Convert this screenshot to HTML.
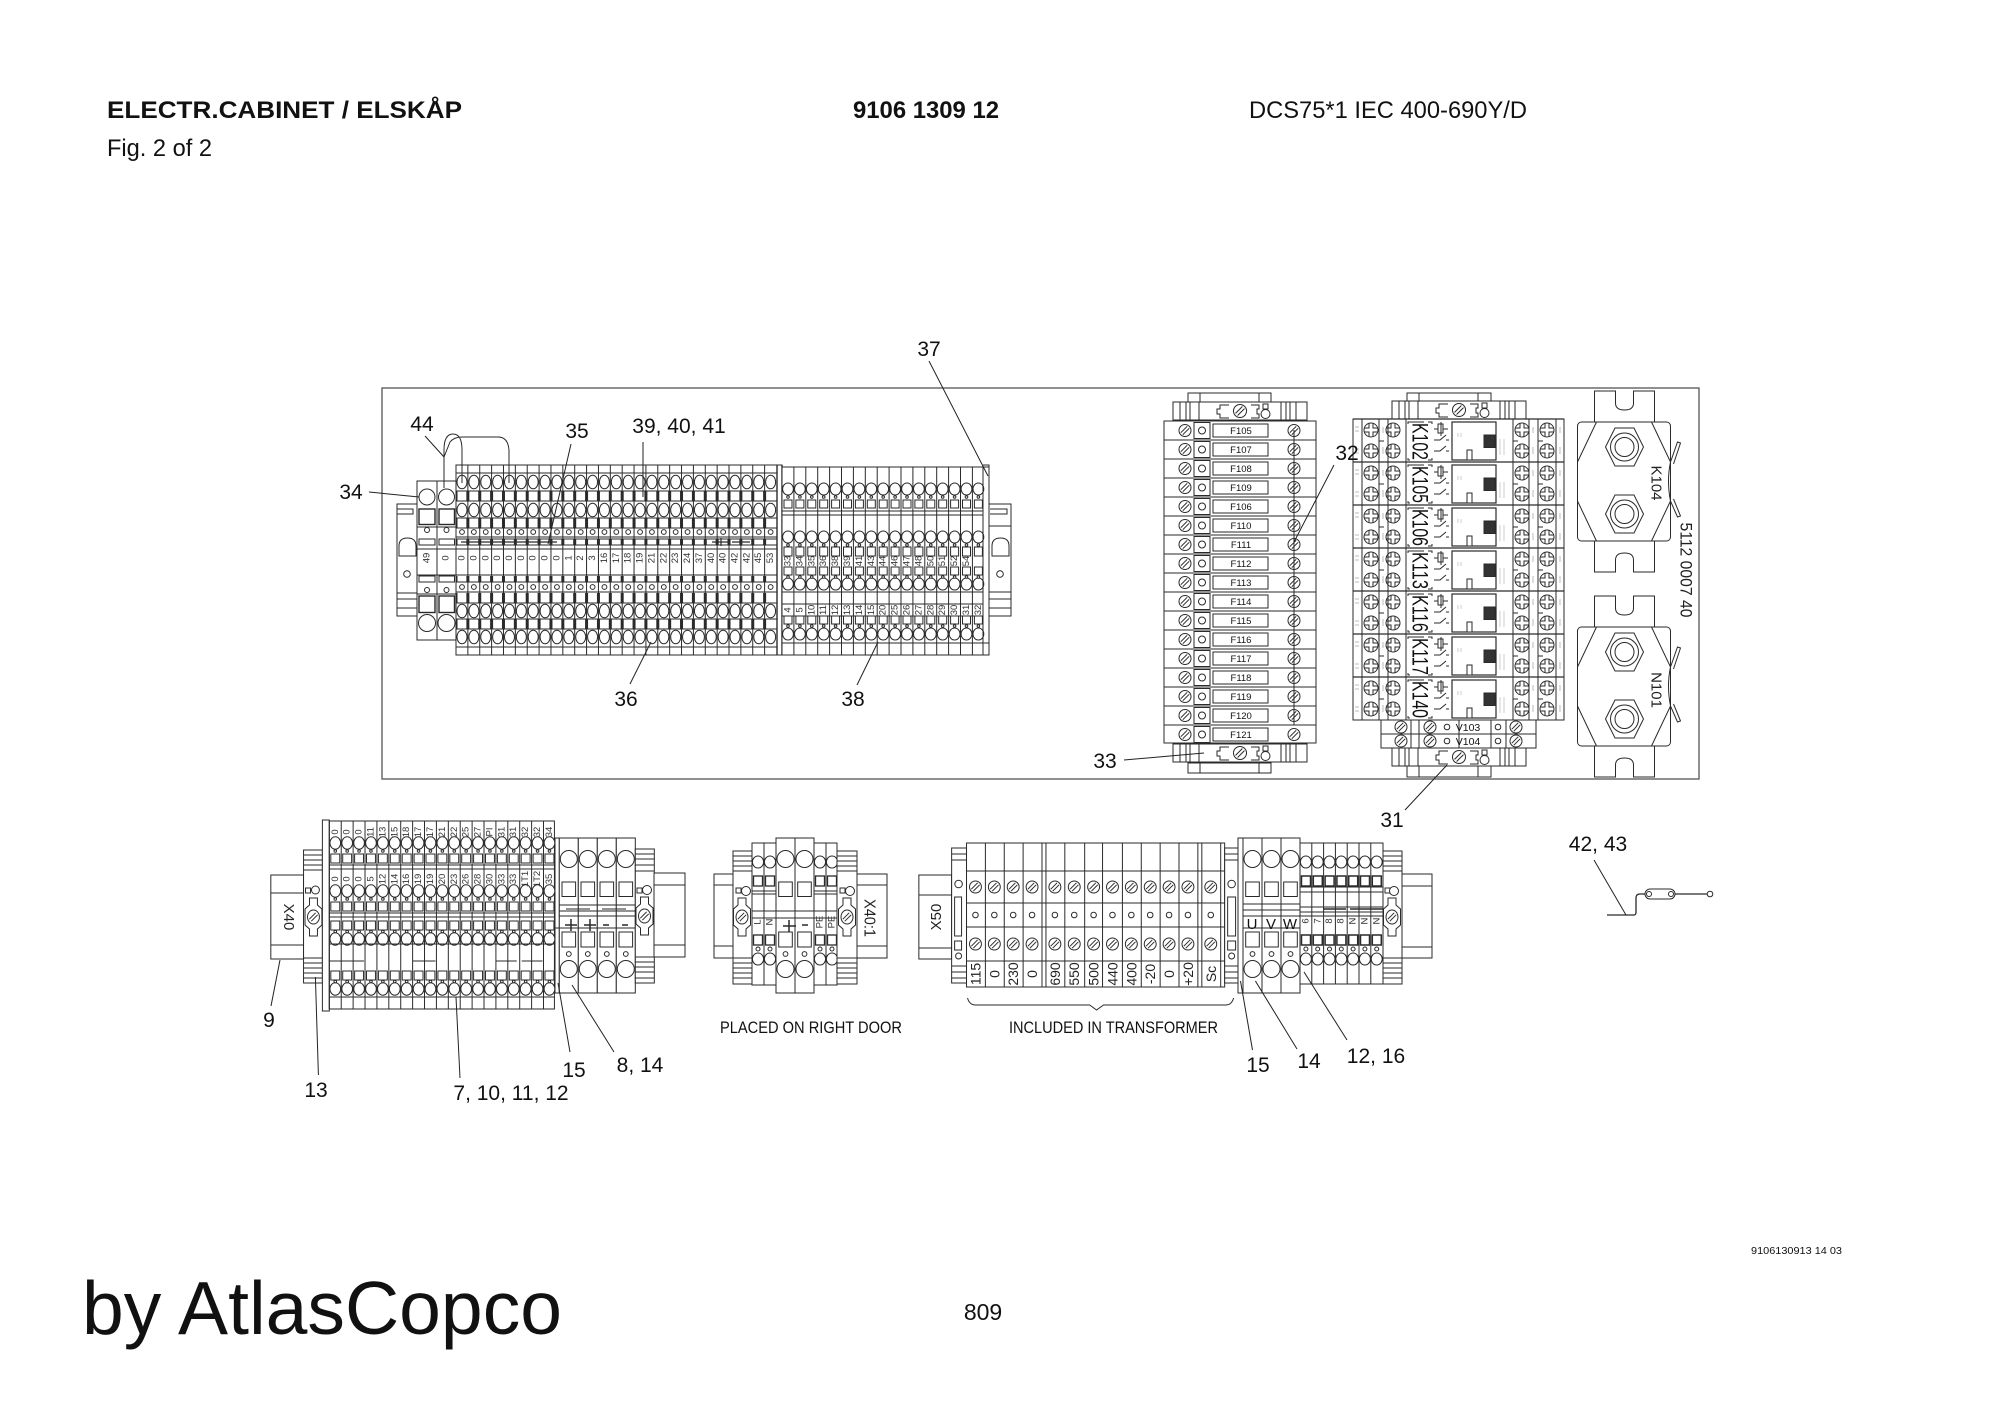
<!DOCTYPE html>
<html><head><meta charset="utf-8"><title>Electr. cabinet</title>
<style>
html,body{margin:0;padding:0;background:#fff}
svg{display:block}
text{font-family:"Liberation Sans",sans-serif;fill:#111;stroke:none}
.c{font-size:21px;text-anchor:middle}
.t{font-size:9.5px;text-anchor:middle;dominant-baseline:central;fill:#333}
.m{font-size:14px;text-anchor:middle;dominant-baseline:central;fill:#222}
.k{font-size:22px;text-anchor:middle;dominant-baseline:central;fill:#111}
</style></head><body>
<svg width="2000" height="1413" viewBox="0 0 2000 1413" xmlns="http://www.w3.org/2000/svg">
<defs>
<g id="s"><circle r="6"/><path d="M-4.2 2.2L2.2-4.2M-2.2 4.2L4.2-2.2"/></g>
<g id="ky"><path d="M-4-19H4V-12L8.500-8V8L4 12V19H-4V12L-8.500 8V-8L-4-12Z"/><g><ellipse rx="6" ry="7"/><path d="M-4.200 2.200L2.200-4.200M-2.200 4.200L4.200-2.200"/></g></g>
<g id="x"><circle r="7"/><path d="M-2-6.700V-2H-6.700M2-6.700V-2H6.700M-2 6.700V2H-6.700M2 6.700V2H6.700"/></g>
<!-- block1 column -->
<g id="c1"><path d="M0 465V655"/>
<path d="M0 491V501M0 518V528M0 539V545M0 576V582M0 593V603M0 619V629" stroke-width="3"/>
<ellipse cx="6" cy="482" rx="5" ry="6.800"/><ellipse cx="6" cy="510" rx="5" ry="6.800"/>
<ellipse cx="6" cy="611" rx="5" ry="6.800"/><ellipse cx="6" cy="637" rx="5" ry="6.800"/>
<circle cx="6" cy="532" r="2.400"/><circle cx="6" cy="587" r="2.400"/></g>
<g id="c13"><use href="#c1"/><use href="#c1" x="11.870"/><use href="#c1" x="23.740"/></g>
<g id="c19"><use href="#c13"/><use href="#c13" x="35.610"/><use href="#c13" x="71.220"/></g>
<!-- block2 column -->
<g id="c2"><path d="M0 467V655"/>
<ellipse cx="6" cy="489" rx="5.400" ry="6"/><ellipse cx="6" cy="537" rx="5.400" ry="6"/><ellipse cx="6" cy="584" rx="5.400" ry="6"/><ellipse cx="6" cy="634" rx="5.400" ry="6"/>
<rect x="2" y="500" width="8" height="8"/><rect x="2" y="547" width="8" height="9"/><rect x="2" y="567" width="8" height="8"/><rect x="2" y="616" width="8" height="8"/>
<circle cx="6" cy="497" r="1.300"/><circle cx="6" cy="545" r="1.300"/><circle cx="6" cy="577" r="1.300"/><circle cx="6" cy="626" r="1.300"/></g>
<g id="c23"><use href="#c2"/><use href="#c2" x="11.900"/><use href="#c2" x="23.800"/></g>
<g id="c26"><use href="#c23"/><use href="#c23" x="35.700"/></g>
<!-- block A column -->
<g id="a"><path d="M0 821V1009"/>
<ellipse cx="6" cy="843" rx="5.400" ry="6.200"/><ellipse cx="6" cy="891" rx="5.400" ry="6.200"/><ellipse cx="6" cy="939" rx="5.400" ry="6.200"/><ellipse cx="6" cy="989" rx="5.400" ry="6.200"/>
<rect x="1.500" y="854" width="9" height="9"/><rect x="1.500" y="902" width="9" height="9"/><rect x="1.500" y="921" width="9" height="9"/><rect x="1.500" y="971" width="9" height="9"/>
<circle cx="6" cy="851" r="1.300"/><circle cx="6" cy="899" r="1.300"/><circle cx="6" cy="931.500" r="1.300"/><circle cx="6" cy="981.500" r="1.300"/></g>
<g id="a3"><use href="#a"/><use href="#a" x="12"/><use href="#a" x="24"/></g>
<g id="a9"><use href="#a3"/><use href="#a3" x="36"/><use href="#a3" x="72"/></g>
<!-- wide column -->
<g id="b"><rect x="0" y="838" width="19" height="155"/>
<ellipse cx="9.500" cy="859" rx="8.500" ry="8.500"/><rect x="2.700" y="882" width="13.600" height="14.500"/>
<rect x="2.700" y="932" width="13.600" height="15"/><circle cx="9.500" cy="954" r="2.400"/><ellipse cx="9.500" cy="969" rx="8.500" ry="8.500"/></g>
<!-- small column for x40:1 -->
<g id="e"><path d="M0 843V985"/><ellipse cx="6" cy="862" rx="5.600" ry="6"/><rect x="1.500" y="876" width="9" height="10" stroke-width="1.300"/><rect x="1.500" y="935" width="9" height="10" stroke-width="1.300"/><circle cx="6" cy="949" r="2"/><ellipse cx="6" cy="959" rx="5.600" ry="6"/></g>
<!-- small col UVW -->
<g id="u"><path d="M0 843V984"/><ellipse cx="5.900" cy="862" rx="5.500" ry="6"/><rect x="1.500" y="876" width="9" height="10" stroke-width="1.500"/><rect x="1.500" y="935" width="9" height="10" stroke-width="1.500"/><circle cx="5.900" cy="949" r="2"/><ellipse cx="5.900" cy="959" rx="5.500" ry="6"/></g>
<!-- fuse row -->
<g id="f"><path d="M1164 0H1316"/><use href="#s" x="1185" y="9.500"/><rect x="1194" y="1.500" width="16" height="16"/><circle cx="1202" cy="9.500" r="3.500"/><rect x="1213" y="3" width="55" height="13"/><use href="#s" x="1294" y="9.500"/></g>
<!-- din end -->
<g id="fe"><rect x="1392" y="401" width="134" height="18"/><path d="M1399 401V419M1405 401V419M1409 401V419M1418 401V419M1500 401V419M1505 401V419M1509 401V419M1515 401V419" fill="none"/>
<path d="M1448 404H1439V408H1436V413H1439V417H1448M1470 404H1478V408H1476V413H1478V417H1470" fill="none"/><g transform="translate(1459 410)"><circle r="6.500"/><path d="M-4.500 2.400L2.400-4.500M-2.400 4.500L4.500-2.400"/></g><rect x="1482" y="403" width="5" height="5"/><circle cx="1484.500" cy="413" r="4.500"/></g>
<!-- relay row -->
<g id="r"><path d="M1353 0H1564" stroke-width="1.300"/>
<use href="#x" x="1371" y="11"/><use href="#x" x="1371" y="32"/><use href="#x" x="1393" y="11"/><use href="#x" x="1393" y="32"/>
<use href="#x" x="1522" y="11"/><use href="#x" x="1522" y="32"/><use href="#x" x="1547" y="11"/><use href="#x" x="1547" y="32"/>
<path d="M1379 22H1384M1513 22H1518M1538 22H1543" fill="none"/>
<path d="M1355 8H1359M1355 12H1359M1355 30H1359M1355 34H1359M1383 8V14M1383 28V35M1533 8V14M1533 28V35M1560 8V14M1560 28V35" stroke="#bbb" fill="none"/>
<path d="M1412 3H1408V5M1412 3H1424M1428 3H1432V5M1410 41H1408V39M1428 41H1432V39" fill="none"/>
<rect x="1438" y="5" width="5" height="9"/>
<path d="M1434 10H1438M1443 10H1448M1434 21H1440L1446 16M1434 32H1440L1446 27M1446 21H1449M1446 32H1449M1441 3V17" fill="none"/>
<rect x="1452" y="3" width="44" height="38" stroke-width="1.200"/><rect x="1484" y="16" width="11" height="12.500" fill="#333"/><rect x="1467" y="31" width="5" height="10"/>
<path d="M1458 14V18M1461 14V18M1500 20V36M1504 20V36" stroke="#ccc" fill="none"/></g>
<!-- contactor -->
<g id="h"><path d="M1597 422V391H1618V403Q1618 410 1627 410T1636 403V391H1657V422M1597 541V572H1618V560Q1618 553 1627 553T1636 560V572H1657V541"/>
<rect x="1580" y="422" width="93" height="119" rx="4"/>
<path d="M1580 462L1599 422M1580 501L1599 541M1673 462L1654 422M1673 501L1654 541" fill="none"/>
<path d="M1673 462L1680 442L1683 443L1676 464M1673 501L1680 517L1683 516L1676 499M1673 462Q1669 481 1673 501" fill="none"/>
<g transform="translate(1627 447)"><path d="M-19 0L-9.500-19H9.500L19 0L9.500 19H-9.500Z"/><circle r="14"/><circle r="9.500"/></g>
<g transform="translate(1627 514)"><path d="M-19 0L-9.500-19H9.500L19 0L9.500 19H-9.500Z"/><circle r="14"/><circle r="9.500"/></g></g>
</defs>

<g fill="#fff" stroke="#2a2a2a" stroke-width="1">
<!-- frame -->
<rect x="382" y="388" width="1317" height="391" fill="none" stroke="#555" stroke-width="1.300"/>

<!-- rails block1 -->
<rect x="397" y="504" width="20" height="112"/><path d="M397 509H413V514H397M399 556V546Q399 538 407.500 538T416 546V556ZM397 593H417M397 599H417M397 608H417" fill="none"/><circle cx="407" cy="574" r="3.300"/>
<rect x="989" y="504" width="22" height="112"/><path d="M990 509H1007V514H990M992 556V546Q992 538 1000.500 538T1009 546V556ZM989 526H1011M989 592H1011M989 599H1011M989 608H1011" fill="none"/><circle cx="1000" cy="574" r="3.300"/>

<!-- block 1 -->
<rect x="456" y="465" width="326" height="190"/>
<use href="#c19" x="456"/><use href="#c19" x="562.830"/><use href="#c19" x="669.660"/>
<path d="M456 473H777M456 491H777M456 501H777M456 518H777M456 528H777M456 537H777M456 539H777M456 545H777M456 549H777M456 575H777M456 582H777M456 592H777M456 603H777M456 619H777M456 629H777M456 647H777" fill="none"/>
<path d="M777 465V655M782 465V655" fill="none" stroke-width="1.400"/>
<path d="M461 542H557M712 542H730M732 542H750M721 538V546M741 538V546" fill="none" stroke-width="1.200"/>

<!-- block 2 -->
<rect x="782" y="467" width="207" height="188"/>
<use href="#c26" x="782"/><use href="#c26" x="853.400"/><use href="#c2" x="924.800"/><use href="#c2" x="936.700"/><use href="#c2" x="948.600"/><use href="#c2" x="960.500"/><use href="#c2" x="972.400"/>
<path d="M782 511H983M782 515H983M782 592H983M782 604H983M782 616H983M782 643H989M983 467V655" fill="none"/>
<path d="M983 465H989V655" fill="none"/>

<!-- wide left terminals -->
<rect x="417" y="481" width="20" height="159"/><rect x="437" y="481" width="19" height="159"/>
<circle cx="427" cy="497" r="8"/><circle cx="446.500" cy="497" r="8"/><circle cx="427" cy="623" r="8.500"/><circle cx="446.500" cy="623" r="8.500"/>
<rect x="419" y="509" width="16" height="15.500" stroke-width="1.400"/><rect x="439" y="509" width="15.500" height="15.500" stroke-width="1.400"/><rect x="419" y="596" width="16" height="16.500" stroke-width="1.400"/><rect x="439" y="596" width="15.500" height="16.500" stroke-width="1.400"/>
<rect x="419" y="539" width="16" height="6"/><rect x="439" y="539" width="15.500" height="6"/><rect x="419" y="576" width="16" height="6"/><rect x="439" y="576" width="15.500" height="6"/>
<path d="M417 549H456M417 575H456M417 527H456M417 594H456" fill="none"/>
<circle cx="427" cy="530" r="2.500"/><circle cx="446.500" cy="530" r="2.500"/><circle cx="427" cy="590" r="2.500"/><circle cx="446.500" cy="590" r="2.500"/>
<path d="M444 488V450Q444 434 453 434Q462 434 462 450V483M444 457L450 442Q454 437 462 437H498Q508 437 509 450V483" fill="none"/>

<!-- fuse block -->
<rect x="1164" y="421" width="152" height="322"/>
<rect x="1188" y="393" width="83" height="9"/><path d="M1200 393V402M1259 393V402" fill="none"/>
<use href="#fe" transform="translate(-219 1)"/><use href="#fe" transform="translate(-219 343)"/>
<rect x="1188" y="763" width="83" height="10"/><path d="M1200 763V773M1259 763V773" fill="none"/>
<use href="#f" y="421"/><use href="#f" y="440"/><use href="#f" y="459"/><use href="#f" y="478"/><use href="#f" y="497"/><use href="#f" y="516"/><use href="#f" y="535"/><use href="#f" y="554"/><use href="#f" y="573"/><use href="#f" y="592"/><use href="#f" y="611"/><use href="#f" y="630"/><use href="#f" y="649"/><use href="#f" y="668"/><use href="#f" y="687"/><use href="#f" y="706"/><use href="#f" y="725"/>
<path d="M1294 430V725" fill="none"/>

<!-- relay block -->
<rect x="1407" y="393" width="84" height="8"/><path d="M1419 393V401M1478 393V401" fill="none"/>
<use href="#fe"/>
<rect x="1353" y="419" width="211" height="301"/>
<use href="#r" y="419"/><use href="#r" y="462"/><use href="#r" y="505"/><use href="#r" y="548"/><use href="#r" y="591"/><use href="#r" y="634"/><use href="#r" y="677"/>
<path d="M1362 419V720M1379 419V720M1388 419V720M1406 419V720M1513 419V720M1529 419V720M1538 419V720M1556 419V720" fill="none"/>
<rect x="1381" y="720" width="155" height="28"/><path d="M1381 734H1536M1411 720V748M1419 720V748M1459 720V748M1491 720V748M1506 720V748" fill="none"/>
<use href="#s" x="1401" y="727"/><use href="#s" x="1430" y="727"/><use href="#s" x="1516" y="727"/><use href="#s" x="1401" y="741"/><use href="#s" x="1430" y="741"/><use href="#s" x="1516" y="741"/>
<circle cx="1447" cy="727" r="2.800"/><circle cx="1447" cy="741" r="2.800"/><circle cx="1498" cy="727" r="2.800"/><circle cx="1498" cy="741" r="2.800"/>
<use href="#fe" transform="translate(0 347)"/>
<rect x="1407" y="766" width="84" height="11"/><path d="M1419 766V777M1478 766V777" fill="none"/>

<!-- contactors -->
<use href="#h" x="-2.500"/><use href="#h" x="-2.500" y="205"/>

<!-- X40 group -->
<g transform="translate(2.105 0) scale(.99158 1)">
<rect x="271" y="875" width="33" height="84"/><path d="M271 893H304M271 945H304" fill="none"/>
<rect x="304" y="850" width="19" height="133"/>
<path d="M304 855H323M304 860H323M304 865H323M304 870H323M304 958H323M304 963H323M304 968H323M304 973H323M304 978H323" fill="none"/>
<rect x="323" y="820" width="7" height="191"/>
<use href="#ky" x="314" y="917"/><rect x="306" y="888" width="5" height="5"/><circle cx="316" cy="890" r="4"/>
<rect x="330" y="821" width="227" height="188"/>
<use href="#a9" x="330"/><use href="#a9" x="438"/><use href="#a" x="546"/>
<path d="M330 865H557M330 869H557M330 913H557M330 917H557M330 944H557M330 997H557M330 961H365M414 961H437M498 961H519M524 961H545" fill="none"/>
</g>
<!-- block B -->
<rect x="555" y="838" width="4.300" height="155"/>
<use href="#b" x="559.300"/><use href="#b" x="578.300"/><use href="#b" x="597.300"/><use href="#b" x="616.300"/>
<path d="M559 905H635M559 911H635M559 916H635M555 928H651M566 909H590M602 909H626" fill="none"/>
<path d="M571 919V931M565 925H577M590 919V931M584 925H596M603 925H609M622 925H628" fill="none" stroke-width="1.500"/>
<rect x="635.300" y="849" width="19" height="134"/>
<path d="M635 854H654M635 859H654M635 865H654M635 871H654M635 957H654M635 962H654M635 967H654M635 972H654M635 978H654" fill="none"/>
<use href="#ky" x="644.500" y="916"/><rect x="637" y="888" width="5" height="5"/><circle cx="647" cy="890" r="4.500"/>
<rect x="654" y="873" width="31" height="84"/><path d="M654 885H685M654 945H685" fill="none"/>

<!-- X40:1 -->
<rect x="714" y="874" width="19" height="84"/><path d="M714 885H733M714 946H733" fill="none"/>
<rect x="733" y="851" width="19" height="133"/>
<path d="M733 856H752M733 861H752M733 866H752M733 871H752M733 958H752M733 963H752M733 968H752M733 973H752M733 978H752" fill="none"/>
<use href="#ky" x="742" y="917"/><rect x="736" y="888" width="5" height="5"/><circle cx="746" cy="891" r="4.500"/>
<rect x="752" y="843" width="24" height="142"/><use href="#e" x="752"/><use href="#e" x="764"/>
<use href="#b" x="776"/><use href="#b" x="795"/>
<rect x="814" y="843" width="23" height="142"/><use href="#e" x="814"/><use href="#e" x="826"/>
<path d="M752 891H776M752 894H776M776 911H814M776 918H814M752 911H776M814 911H837M752 918H776M814 918H837M814 891H837M814 894H837" fill="none"/>
<path d="M789 920V932M783 926H796M802 925H808" fill="none" stroke-width="1.500"/>
<rect x="837" y="851" width="20" height="133"/>
<path d="M837 856H857M837 861H857M837 866H857M837 871H857M837 958H857M837 963H857M837 968H857M837 973H857M837 978H857" fill="none"/>
<use href="#ky" x="847" y="917"/><rect x="840" y="888" width="5" height="5"/><circle cx="850" cy="891" r="4.500"/>
<rect x="857" y="874" width="30" height="84"/><path d="M857 885H887M857 946H887" fill="none"/>

<!-- X50 group -->
<g transform="translate(6.430 0) scale(.99286 1)">
<rect x="919" y="875" width="33" height="84"/><path d="M919 895H952M919 948H952" fill="none"/>
<rect x="952" y="848" width="15" height="135"/>
<path d="M952 854H967M952 860H967M952 966H967M952 972H967M952 978H967" fill="none"/>
<circle cx="959" cy="884" r="3.800"/><rect x="955" y="897" width="7" height="39"/><rect x="955" y="941" width="7" height="9"/><circle cx="959" cy="956" r="3"/>
<rect x="967" y="843" width="260" height="144"/>
<path d="M986 843V987M1005 843V987M1024 843V987M1043 843V987M1047 843V987M1066 843V987M1086 843V987M1104 843V987M1124 843V987M1143 843V987M1162 843V987M1181 843V987M1200 843V987M1204 843V987M1223 843V987M967 871H1227M967 903H1227M967 927H1227M967 961H1227" fill="none"/>
<use href="#s" x="976" y="887"/><use href="#s" x="995" y="887"/><use href="#s" x="1014" y="887"/><use href="#s" x="1033" y="887"/><use href="#s" x="1056" y="887"/><use href="#s" x="1075.500" y="887"/><use href="#s" x="1095" y="887"/><use href="#s" x="1114" y="887"/><use href="#s" x="1133" y="887"/><use href="#s" x="1152" y="887"/><use href="#s" x="1171" y="887"/><use href="#s" x="1190" y="887"/><use href="#s" x="1213" y="887"/>
<use href="#s" x="976" y="944"/><use href="#s" x="995" y="944"/><use href="#s" x="1014" y="944"/><use href="#s" x="1033" y="944"/><use href="#s" x="1056" y="944"/><use href="#s" x="1075.500" y="944"/><use href="#s" x="1095" y="944"/><use href="#s" x="1114" y="944"/><use href="#s" x="1133" y="944"/><use href="#s" x="1152" y="944"/><use href="#s" x="1171" y="944"/><use href="#s" x="1190" y="944"/><use href="#s" x="1213" y="944"/>
<circle cx="976" cy="915" r="2.800"/><circle cx="995" cy="915" r="2.800"/><circle cx="1014" cy="915" r="2.800"/><circle cx="1033" cy="915" r="2.800"/><circle cx="1056" cy="915" r="2.800"/><circle cx="1075.500" cy="915" r="2.800"/><circle cx="1095" cy="915" r="2.800"/><circle cx="1114" cy="915" r="2.800"/><circle cx="1133" cy="915" r="2.800"/><circle cx="1152" cy="915" r="2.800"/><circle cx="1171" cy="915" r="2.800"/><circle cx="1190" cy="915" r="2.800"/><circle cx="1213" cy="915" r="2.800"/>
<rect x="1227" y="848" width="14" height="135"/>
<path d="M1227 854H1241M1227 860H1241M1227 966H1241M1227 972H1241M1227 978H1241" fill="none"/>
<circle cx="1234" cy="884" r="3.800"/><rect x="1230" y="897" width="8" height="39"/><rect x="1230" y="941" width="8" height="9"/><circle cx="1234" cy="956" r="3"/>
<path d="M968 998Q970 1005 976 1005H1091L1098 1010L1105 1005H1228Q1234 1005 1236 998" fill="none"/>
</g>
<!-- UVW -->
<rect x="1238" y="838" width="62" height="155"/>
<use href="#b" x="1243"/><use href="#b" x="1262"/><use href="#b" x="1281"/>
<path d="M1243 904H1300M1243 910H1300M1243 916H1300M1243 928H1300" fill="none"/>
<rect x="1300" y="843" width="83" height="141"/>
<use href="#u" x="1300"/><use href="#u" x="1311.800"/><use href="#u" x="1323.600"/><use href="#u" x="1335.400"/><use href="#u" x="1347.200"/><use href="#u" x="1359"/><use href="#u" x="1370.800"/>
<path d="M1300 887H1383M1300 892H1383M1300 907H1383M1300 912H1383M1300 916H1383" fill="none"/>
<path d="M1323 909H1346M1350 909H1383" fill="none" stroke-width="1.600"/>
<rect x="1383" y="851" width="19" height="133"/>
<path d="M1383 856H1402M1383 861H1402M1383 866H1402M1383 871H1402M1383 958H1402M1383 963H1402M1383 968H1402M1383 973H1402M1383 978H1402" fill="none"/>
<use href="#ky" x="1392" y="917"/><rect x="1385" y="888" width="5" height="5"/><circle cx="1394" cy="891" r="4.500"/>
<rect x="1402" y="874" width="30" height="84"/><path d="M1402 886H1432M1402 947H1432" fill="none"/>

<!-- symbol 42,43 -->
<path d="M1607 915H1634Q1636 915 1636 912V898Q1636 894 1640 894H1707" fill="none" stroke-width="1.300"/>
<rect x="1645" y="889" width="30" height="10" rx="5"/><circle cx="1649" cy="894" r="2.500"/><circle cx="1671" cy="894" r="2.500"/><circle cx="1710" cy="894" r="2.800"/>

<!-- leaders -->
<path fill="none" stroke="#222" d="M929 361L988 476M425 436L444 457M571 444L548 544M643 442V497M369 492L419 497M630 684L651 642M857 685L878 642M1334 465L1294 542M1124 760L1204 753M1405 810L1447 765M271 1006L280 960M318.400 1075L315.400 977M460 1078L456 997M570 1052L558 983M614 1052L572 985M1252.500 1050L1240.500 981M1297 1049L1255.400 981M1347 1040L1304 972M1594 860L1626 915"/>
</g>

<!-- text -->
<text x="107" y="118" font-size="24.500" font-weight="bold" textLength="355" lengthAdjust="spacingAndGlyphs">ELECTR.CABINET / ELSKÅP</text>
<text x="853" y="118" font-size="24" font-weight="bold" textLength="146" lengthAdjust="spacingAndGlyphs">9106 1309 12</text>
<text x="1249" y="118" font-size="24" textLength="278" lengthAdjust="spacingAndGlyphs">DCS75*1 IEC 400-690Y/D</text>
<text x="107" y="156" font-size="24" textLength="105" lengthAdjust="spacingAndGlyphs">Fig. 2 of 2</text>
<text x="82" y="1334" font-size="75" textLength="480" lengthAdjust="spacingAndGlyphs">by AtlasCopco</text>
<text x="983" y="1320" font-size="23" text-anchor="middle">809</text>
<text x="1751" y="1254" font-size="10.500" textLength="91" lengthAdjust="spacingAndGlyphs">9106130913 14 03</text>

<text class="c" x="929" y="356">37</text><text class="c" x="422" y="431">44</text><text class="c" x="577" y="438">35</text><text class="c" x="679" y="433">39, 40, 41</text><text class="c" x="351" y="499">34</text><text class="c" x="626" y="706">36</text><text class="c" x="853" y="706">38</text><text class="c" x="1347" y="460">32</text><text class="c" x="1105" y="768">33</text><text class="c" x="1392" y="827">31</text><text class="c" x="1598" y="851">42, 43</text><text class="c" x="269" y="1027">9</text><text class="c" x="316" y="1097">13</text><text class="c" x="511" y="1100">7, 10, 11, 12</text><text class="c" x="574" y="1077">15</text><text class="c" x="640" y="1072">8, 14</text><text class="c" x="1258" y="1072">15</text><text class="c" x="1309" y="1068">14</text><text class="c" x="1376" y="1063">12, 16</text>
<text x="720" y="1033" font-size="17" textLength="182" lengthAdjust="spacingAndGlyphs">PLACED ON RIGHT DOOR</text>
<text x="1009" y="1033" font-size="17" textLength="209" lengthAdjust="spacingAndGlyphs">INCLUDED IN TRANSFORMER</text>

<!-- block1 labels -->
<g>
<text class="t" transform="translate(427 558)rotate(-90)">49</text><text class="t" transform="translate(446 558)rotate(-90)">0</text>
<text class="t" transform="translate(462 558)rotate(-90)">0</text><text class="t" transform="translate(473.900 558)rotate(-90)">0</text><text class="t" transform="translate(485.800 558)rotate(-90)">0</text><text class="t" transform="translate(497.700 558)rotate(-90)">0</text><text class="t" transform="translate(509.500 558)rotate(-90)">0</text><text class="t" transform="translate(521.400 558)rotate(-90)">0</text><text class="t" transform="translate(533.200 558)rotate(-90)">0</text><text class="t" transform="translate(545.100 558)rotate(-90)">0</text><text class="t" transform="translate(557 558)rotate(-90)">0</text><text class="t" transform="translate(568.800 558)rotate(-90)">1</text><text class="t" transform="translate(580.700 558)rotate(-90)">2</text><text class="t" transform="translate(592.600 558)rotate(-90)">3</text><text class="t" transform="translate(604.400 558)rotate(-90)">16</text><text class="t" transform="translate(616.300 558)rotate(-90)">17</text><text class="t" transform="translate(628.200 558)rotate(-90)">18</text><text class="t" transform="translate(640 558)rotate(-90)">19</text><text class="t" transform="translate(651.900 558)rotate(-90)">21</text><text class="t" transform="translate(663.800 558)rotate(-90)">22</text><text class="t" transform="translate(675.700 558)rotate(-90)">23</text><text class="t" transform="translate(687.500 558)rotate(-90)">24</text><text class="t" transform="translate(699.400 558)rotate(-90)">37</text><text class="t" transform="translate(711.300 558)rotate(-90)">40</text><text class="t" transform="translate(723.100 558)rotate(-90)">40</text><text class="t" transform="translate(735 558)rotate(-90)">42</text><text class="t" transform="translate(746.900 558)rotate(-90)">42</text><text class="t" transform="translate(758.700 558)rotate(-90)">45</text><text class="t" transform="translate(770.600 558)rotate(-90)">53</text>
<text class="t" transform="translate(788 561)rotate(-90)">33</text><text class="t" transform="translate(799.900 561)rotate(-90)">34</text><text class="t" transform="translate(811.800 561)rotate(-90)">35</text><text class="t" transform="translate(823.700 561)rotate(-90)">36</text><text class="t" transform="translate(835.600 561)rotate(-90)">38</text><text class="t" transform="translate(847.500 561)rotate(-90)">39</text><text class="t" transform="translate(859.400 561)rotate(-90)">41</text><text class="t" transform="translate(871.300 561)rotate(-90)">43</text><text class="t" transform="translate(883.200 561)rotate(-90)">44</text><text class="t" transform="translate(895.100 561)rotate(-90)">46</text><text class="t" transform="translate(907 561)rotate(-90)">47</text><text class="t" transform="translate(918.900 561)rotate(-90)">48</text><text class="t" transform="translate(930.800 561)rotate(-90)">50</text><text class="t" transform="translate(942.700 561)rotate(-90)">51</text><text class="t" transform="translate(954.600 561)rotate(-90)">52</text><text class="t" transform="translate(966.500 561)rotate(-90)">54</text>
<text class="t" transform="translate(788 610)rotate(-90)">4</text><text class="t" transform="translate(799.900 610)rotate(-90)">5</text><text class="t" transform="translate(811.800 610)rotate(-90)">10</text><text class="t" transform="translate(823.700 610)rotate(-90)">11</text><text class="t" transform="translate(835.600 610)rotate(-90)">12</text><text class="t" transform="translate(847.500 610)rotate(-90)">13</text><text class="t" transform="translate(859.400 610)rotate(-90)">14</text><text class="t" transform="translate(871.300 610)rotate(-90)">15</text><text class="t" transform="translate(883.200 610)rotate(-90)">20</text><text class="t" transform="translate(895.100 610)rotate(-90)">25</text><text class="t" transform="translate(907 610)rotate(-90)">26</text><text class="t" transform="translate(918.900 610)rotate(-90)">27</text><text class="t" transform="translate(930.800 610)rotate(-90)">28</text><text class="t" transform="translate(942.700 610)rotate(-90)">29</text><text class="t" transform="translate(954.600 610)rotate(-90)">30</text><text class="t" transform="translate(966.500 610)rotate(-90)">31</text><text class="t" transform="translate(978.400 610)rotate(-90)">32</text>
</g>

<!-- fuse labels -->
<g font-size="9.500" text-anchor="middle">
<text x="1241" y="434">F105</text><text x="1241" y="453">F107</text><text x="1241" y="472">F108</text><text x="1241" y="491">F109</text><text x="1241" y="510">F106</text><text x="1241" y="529">F110</text><text x="1241" y="548">F111</text><text x="1241" y="567">F112</text><text x="1241" y="586">F113</text><text x="1241" y="605">F114</text><text x="1241" y="624">F115</text><text x="1241" y="643">F116</text><text x="1241" y="662">F117</text><text x="1241" y="681">F118</text><text x="1241" y="700">F119</text><text x="1241" y="719">F120</text><text x="1241" y="738">F121</text>
</g>

<!-- relay labels -->
<text class="k" transform="translate(1420 441.500)rotate(90)" textLength="37" lengthAdjust="spacingAndGlyphs">K102</text>
<text class="k" transform="translate(1420 484.500)rotate(90)" textLength="37" lengthAdjust="spacingAndGlyphs">K105</text>
<text class="k" transform="translate(1420 527.500)rotate(90)" textLength="37" lengthAdjust="spacingAndGlyphs">K106</text>
<text class="k" transform="translate(1420 570.500)rotate(90)" textLength="37" lengthAdjust="spacingAndGlyphs">K113</text>
<text class="k" transform="translate(1420 613.500)rotate(90)" textLength="37" lengthAdjust="spacingAndGlyphs">K116</text>
<text class="k" transform="translate(1420 656.500)rotate(90)" textLength="37" lengthAdjust="spacingAndGlyphs">K117</text>
<text class="k" transform="translate(1420 699.500)rotate(90)" textLength="37" lengthAdjust="spacingAndGlyphs">K140</text>
<text x="1468" y="731" font-size="10.500" text-anchor="middle">V103</text><text x="1468" y="745" font-size="10.500" text-anchor="middle">V104</text>
<text class="m" transform="translate(1656 483)rotate(90)" style="font-size:15px">K104</text>
<text class="m" transform="translate(1656 690)rotate(90)" style="font-size:15px">N101</text>
<text class="m" transform="translate(1686 570)rotate(90)" style="font-size:17px" textLength="95" lengthAdjust="spacingAndGlyphs">5112 0007 40</text>

<!-- X40 labels -->
<g transform="translate(2.105 0) scale(.99158 1)">
<text class="m" transform="translate(289 917)rotate(90)" style="font-size:15px">X40</text>
<text class="t" transform="translate(336 832)rotate(-90)">0</text><text class="t" transform="translate(348 832)rotate(-90)">0</text><text class="t" transform="translate(360 832)rotate(-90)">0</text><text class="t" transform="translate(372 832)rotate(-90)">11</text><text class="t" transform="translate(384 832)rotate(-90)">13</text><text class="t" transform="translate(396 832)rotate(-90)">15</text><text class="t" transform="translate(408 832)rotate(-90)">18</text><text class="t" transform="translate(420 832)rotate(-90)">17</text><text class="t" transform="translate(432 832)rotate(-90)">17</text><text class="t" transform="translate(444 832)rotate(-90)">21</text><text class="t" transform="translate(456 832)rotate(-90)">22</text><text class="t" transform="translate(468 832)rotate(-90)">25</text><text class="t" transform="translate(480 832)rotate(-90)">27</text><text class="t" transform="translate(492 832)rotate(-90)">PI</text><text class="t" transform="translate(504 832)rotate(-90)">31</text><text class="t" transform="translate(516 832)rotate(-90)">31</text><text class="t" transform="translate(528 832)rotate(-90)">32</text><text class="t" transform="translate(540 832)rotate(-90)">32</text><text class="t" transform="translate(552 832)rotate(-90)">34</text>
<text class="t" transform="translate(336 879)rotate(-90)">0</text><text class="t" transform="translate(348 879)rotate(-90)">0</text><text class="t" transform="translate(360 879)rotate(-90)">0</text><text class="t" transform="translate(372 879)rotate(-90)">5</text><text class="t" transform="translate(384 879)rotate(-90)">12</text><text class="t" transform="translate(396 879)rotate(-90)">14</text><text class="t" transform="translate(408 879)rotate(-90)">16</text><text class="t" transform="translate(420 879)rotate(-90)">19</text><text class="t" transform="translate(432 879)rotate(-90)">19</text><text class="t" transform="translate(444 879)rotate(-90)">20</text><text class="t" transform="translate(456 879)rotate(-90)">23</text><text class="t" transform="translate(468 879)rotate(-90)">26</text><text class="t" transform="translate(480 879)rotate(-90)">28</text><text class="t" transform="translate(492 879)rotate(-90)">30</text><text class="t" transform="translate(504 879)rotate(-90)">33</text><text class="t" transform="translate(516 879)rotate(-90)">33</text><text class="t" transform="translate(528 879)rotate(-90)">1T1</text><text class="t" transform="translate(540 879)rotate(-90)">1T2</text><text class="t" transform="translate(552 879)rotate(-90)">35</text>
</g>
<text class="t" transform="translate(758 922)rotate(-90)">L</text><text class="t" transform="translate(770 922)rotate(-90)">N</text><text class="t" transform="translate(820 922)rotate(-90)">PE</text><text class="t" transform="translate(832 922)rotate(-90)">PE</text>
<text class="m" transform="translate(869 918)rotate(90)" style="font-size:16px" textLength="38" lengthAdjust="spacingAndGlyphs">X40:1</text>

<!-- X50 labels -->
<g transform="translate(6.430 0) scale(.99286 1)">
<text class="m" transform="translate(937 917)rotate(-90)" style="font-size:15px">X50</text>
<text class="m" transform="translate(976 974)rotate(-90)">115</text><text class="m" transform="translate(995 974)rotate(-90)">0</text><text class="m" transform="translate(1014 974)rotate(-90)">230</text><text class="m" transform="translate(1033 974)rotate(-90)">0</text><text class="m" transform="translate(1056 974)rotate(-90)">690</text><text class="m" transform="translate(1075.500 974)rotate(-90)">550</text><text class="m" transform="translate(1095 974)rotate(-90)">500</text><text class="m" transform="translate(1114 974)rotate(-90)">440</text><text class="m" transform="translate(1133 974)rotate(-90)">400</text><text class="m" transform="translate(1152 974)rotate(-90)">-20</text><text class="m" transform="translate(1171 974)rotate(-90)">0</text><text class="m" transform="translate(1190 974)rotate(-90)">+20</text><text class="m" transform="translate(1213 974)rotate(-90)">Sc</text>
</g>
<text x="1252" y="929" font-size="15" text-anchor="middle">U</text><text x="1271" y="929" font-size="15" text-anchor="middle">V</text><text x="1290" y="929" font-size="15" text-anchor="middle">W</text>
<text class="t" transform="translate(1306 921)rotate(-90)">6</text><text class="t" transform="translate(1318 921)rotate(-90)">7</text><text class="t" transform="translate(1329.500 921)rotate(-90)">8</text><text class="t" transform="translate(1341 921)rotate(-90)">8</text><text class="t" transform="translate(1353 921)rotate(-90)">N</text><text class="t" transform="translate(1365 921)rotate(-90)">N</text><text class="t" transform="translate(1377 921)rotate(-90)">N</text>
</svg>
</body></html>
